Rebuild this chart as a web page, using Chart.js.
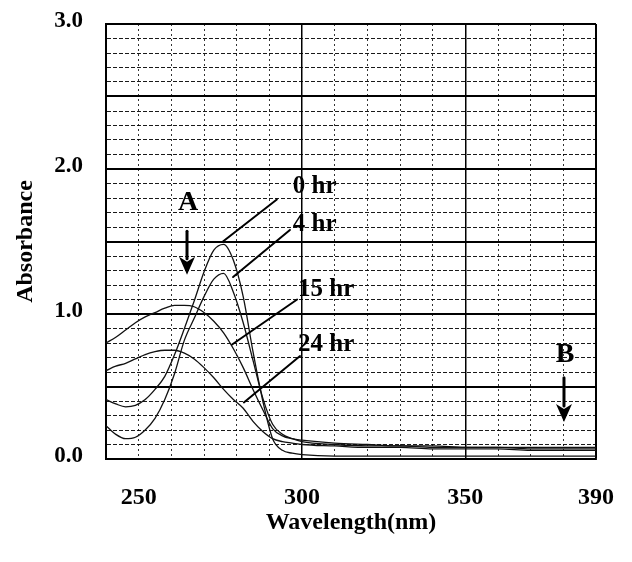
<!DOCTYPE html>
<html>
<head>
<meta charset="utf-8">
<script src="https://cdn.jsdelivr.net/npm/chart.js@4/dist/chart.umd.min.js"></script>
<style>
  html, body { margin: 0; padding: 0; background: #fff; }
  #wrap { width: 632px; height: 562px; }
</style>
</head>
<body>
<div id="wrap"><canvas id="c" width="632" height="562"></canvas></div>
<script>
// ---- data ----
const wavelengths = [240, 243, 246, 249, 252, 255, 258, 261, 264, 267, 270, 273, 276, 279, 282, 285, 288, 291, 294, 297, 300, 310, 320, 330, 340, 350, 360, 370, 380, 390];
const abs0hr  = [0.41, 0.38, 0.36, 0.37, 0.41, 0.48, 0.57, 0.72, 0.90, 1.09, 1.29, 1.44, 1.48, 1.37, 1.12, 0.74, 0.40, 0.14, 0.06, 0.04, 0.03, 0.02, 0.02, 0.02, 0.02, 0.02, 0.02, 0.02, 0.02, 0.02];
const abs4hr  = [0.23, 0.17, 0.14, 0.15, 0.20, 0.28, 0.41, 0.59, 0.82, 0.97, 1.12, 1.24, 1.28, 1.15, 0.94, 0.68, 0.42, 0.24, 0.17, 0.14, 0.12, 0.10, 0.09, 0.09, 0.08, 0.08, 0.08, 0.07, 0.07, 0.07];
const abs15hr = [0.80, 0.84, 0.89, 0.94, 0.98, 1.01, 1.04, 1.06, 1.06, 1.05, 1.01, 0.95, 0.87, 0.76, 0.63, 0.48, 0.34, 0.21, 0.16, 0.14, 0.13, 0.11, 0.10, 0.09, 0.09, 0.08, 0.08, 0.08, 0.08, 0.08];
const abs24hr = [0.61, 0.64, 0.66, 0.69, 0.72, 0.74, 0.75, 0.75, 0.73, 0.69, 0.63, 0.56, 0.48, 0.41, 0.35, 0.26, 0.19, 0.14, 0.12, 0.11, 0.10, 0.09, 0.08, 0.08, 0.07, 0.07, 0.07, 0.06, 0.06, 0.06];
const seriesNames = ['0 hr', '4 hr', '15 hr', '24 hr'];
const xTickLabels = [250, 300, 350, 390];
const yTickLabels = [0, 1, 2, 3];
// curve labels: text anchor [wl, A], leader from [wl, A] to [wl, A]
const curveLabelAt   = [[297.2, 1.88], [297.2, 1.62], [298.8, 1.17], [298.8, 0.79]];
const leaderFrom     = [[275.8, 1.50], [278.9, 1.255], [278.6, 0.79], [282.2, 0.39]];
const leaderTo       = [[292.3, 1.79], [296.3, 1.58], [298.5, 1.10], [299.4, 0.71]];
const markerNames    = ['A', 'B'];
const markerTextAt   = [[265.1, 1.77], [380.5, 0.72]];
const markerArrowTop = [[264.8, 1.57], [380.2, 0.56]];
const markerArrowTip = [[264.8, 1.27], [380.2, 0.255]];

const FONT = "'Liberation Serif', 'Times New Roman', serif";

const seriesData = [abs0hr, abs4hr, abs15hr, abs24hr];
const datasets = seriesData.map((arr, i) => ({
  label: seriesNames[i],
  data: wavelengths.map((w, k) => ({ x: w, y: arr[k] })),
  borderColor: '#111',
  borderWidth: 1.3,
  pointRadius: 0,
  fill: false,
  cubicInterpolationMode: 'monotone'
}));

function isMult(v, step) { return Math.abs(v / step - Math.round(v / step)) < 1e-6; }

const annotate = {
  id: 'annotate',
  afterDatasetsDraw(chart) {
    const { ctx, scales: { x, y } } = chart;
    const px = p => [x.getPixelForValue(p[0]), y.getPixelForValue(p[1])];
    ctx.save();
    ctx.strokeStyle = '#000';
    ctx.fillStyle = '#000';
    ctx.lineWidth = 2;
    ctx.lineCap = 'round';
    // leaders + curve labels
    ctx.font = 'bold 25px ' + FONT;
    ctx.textAlign = 'left';
    ctx.textBaseline = 'middle';
    seriesNames.forEach((n, i) => {
      const a = px(leaderFrom[i]), b = px(leaderTo[i]);
      ctx.beginPath(); ctx.moveTo(a[0], a[1]); ctx.lineTo(b[0], b[1]); ctx.stroke();
      const t = px(curveLabelAt[i]);
      ctx.fillText(n, t[0], t[1]);
    });
    // markers A / B with arrows
    ctx.font = 'bold 28px ' + FONT;
    ctx.textAlign = 'center';
    markerNames.forEach((n, i) => {
      const t = px(markerTextAt[i]);
      ctx.fillText(n, t[0], t[1]);
      const a = px(markerArrowTop[i]), b = px(markerArrowTip[i]);
      const headH = 18, headW = 8;
      ctx.lineWidth = 3;
      ctx.beginPath(); ctx.moveTo(a[0], a[1]); ctx.lineTo(b[0], b[1] - headH + 2); ctx.stroke();
      ctx.beginPath();
      ctx.moveTo(b[0], b[1]);
      ctx.lineTo(b[0] - headW, b[1] - headH);
      ctx.lineTo(b[0], b[1] - headH + 5);
      ctx.lineTo(b[0] + headW, b[1] - headH);
      ctx.closePath();
      ctx.fill();
    });
    ctx.restore();
  }
};

new Chart(document.getElementById('c'), {
  type: 'line',
  data: { datasets },
  options: {
    responsive: false,
    animation: false,
    layout: { padding: { left: 10, right: 36, top: 24, bottom: 20 } },
    plugins: { legend: { display: false }, tooltip: { enabled: false } },
    scales: {
      x: {
        type: 'linear',
        min: 240, max: 390,
        afterFit: s => { s.height = 83; s.paddingLeft = 0; s.paddingRight = 0; },
        ticks: {
          stepSize: 10, autoSkip: false, maxRotation: 0, padding: 24,
          color: '#000',
          font: { family: FONT, size: 24, weight: 'bold' },
          callback: v => xTickLabels.includes(Math.round(v)) ? String(Math.round(v)) : ''
        },
        grid: {
          drawTicks: false,
          color: '#000',
          lineWidth: c => {
            const v = c.tick ? c.tick.value : 0;
            if (v === 390) return 2;
            return (v === 300 || v === 350) ? 1.5 : 0.8;
          }
        },
        border: {
          display: true, color: '#000', width: 2,
          dash: c => {
            const v = c.tick ? c.tick.value : null;
            if (v === null || v === 300 || v === 350 || v === 390 || v === 240) return [];
            return [2, 3];
          }
        },
        title: {
          display: true, text: 'Wavelength(nm)', color: '#000',
          font: { family: FONT, size: 24, weight: 'bold' },
          padding: { top: 0, bottom: 5 }
        }
      },
      y: {
        min: 0, max: 3,
        afterFit: s => { s.width = 96; s.paddingTop = 0; s.paddingBottom = 0; },
        ticks: {
          stepSize: 0.1, autoSkip: false, padding: 23, labelOffset: -3,
          color: '#000',
          font: { family: FONT, size: 23, weight: 'bold' },
          callback: v => yTickLabels.some(t => Math.abs(t - v) < 1e-6) ? v.toFixed(1) : ''
        },
        grid: {
          drawTicks: false,
          color: '#000',
          lineWidth: c => {
            const v = c.tick ? c.tick.value : 0;
            if (Math.abs(v - 3) < 1e-6) return 2;
            return isMult(v, 0.5) ? 2 : 0.9;
          }
        },
        border: {
          display: true, color: '#000', width: 2,
          dash: c => {
            const v = c.tick ? c.tick.value : null;
            if (v === null || isMult(v, 0.5)) return [];
            return [4, 2];
          }
        },
        title: {
          display: true, text: 'Absorbance', color: '#000',
          font: { family: FONT, size: 24, weight: 'bold' },
          padding: { top: 1, bottom: 0 }
        }
      }
    }
  },
  plugins: [annotate]
});
</script>
</body>
</html>
